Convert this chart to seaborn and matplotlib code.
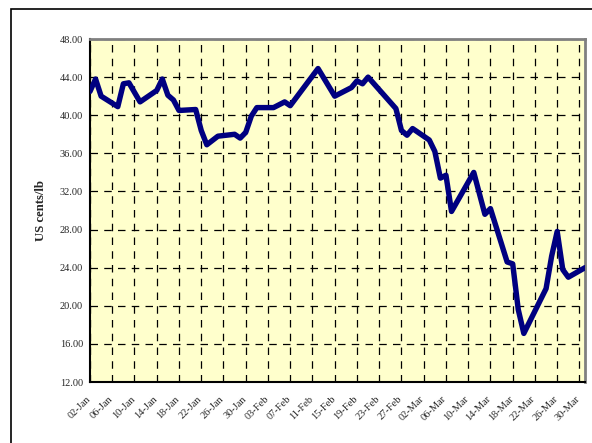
import matplotlib
matplotlib.use("Agg")
import matplotlib.pyplot as plt
from matplotlib.patches import Rectangle
from matplotlib.transforms import ScaledTranslation
import seaborn as sns
import pandas as pd

# ---- data ----
dates = [
    "2020-01-02", "2020-01-03", "2020-01-04", "2020-01-07", "2020-01-08", "2020-01-09",
    "2020-01-11", "2020-01-14", "2020-01-15", "2020-01-16", "2020-01-17", "2020-01-18",
    "2020-01-21", "2020-01-22", "2020-01-23", "2020-01-25", "2020-01-28", "2020-01-29",
    "2020-01-30", "2020-01-31", "2020-02-01", "2020-02-04", "2020-02-06", "2020-02-07",
    "2020-02-12", "2020-02-15", "2020-02-18", "2020-02-19", "2020-02-20", "2020-02-21",
    "2020-02-26", "2020-02-27", "2020-02-28", "2020-02-29", "2020-03-03", "2020-03-04",
    "2020-03-05", "2020-03-06", "2020-03-07", "2020-03-11", "2020-03-13", "2020-03-14",
    "2020-03-17", "2020-03-18", "2020-03-19", "2020-03-20", "2020-03-24", "2020-03-25",
    "2020-03-26", "2020-03-27", "2020-03-28", "2020-03-31",
]
prices = [
    42.5, 43.8, 42.0, 40.9, 43.3, 43.4,
    41.4, 42.6, 43.8, 42.1, 41.6, 40.5,
    40.6, 38.4, 36.9, 37.8, 38.0, 37.6,
    38.2, 39.9, 40.8, 40.8, 41.4, 41.0,
    44.9, 42.0, 42.9, 43.6, 43.3, 44.0,
    40.7, 38.4, 37.9, 38.6, 37.4, 36.2,
    33.4, 33.7, 29.9, 34.0, 29.6, 30.2,
    24.6, 24.4, 19.6, 17.1, 21.8, 25.2,
    27.8, 23.8, 23.0, 24.0,
]
y_ticks = [12, 16, 20, 24, 28, 32, 36, 40, 44, 48]
y_label = "US cents/lb"
x_start, x_end, x_last_tick = "2020-01-02", "2020-03-31", "2020-03-30"

df = pd.DataFrame({"date": pd.to_datetime(dates), "price": prices})

sns.set_style("white")
serif = ["Liberation Serif", "DejaVu Serif"]

fig = plt.figure(figsize=(5.92, 4.43), dpi=100)
ax = fig.add_axes([90 / 592, 1 - 382 / 443, (585 - 90) / 592, (382 - 39) / 443])
ax.set_facecolor("#FFFFCC")

sns.lineplot(data=df, x="date", y="price", ax=ax, color="#000080",
             linewidth=3.9, sort=False, estimator=None, zorder=3)

ax.set_xlim(pd.Timestamp(x_start), pd.Timestamp(x_end))
ax.set_ylim(y_ticks[0], y_ticks[-1])
ax.set_yticks(y_ticks)
ax.set_yticklabels([f"{v:.2f}" for v in y_ticks], family=serif, fontsize=7.5)

xt = pd.date_range(x_start, x_last_tick, freq="4D")
ax.set_xticks(xt)
ax.set_xticklabels([d.strftime("%d-%b") for d in xt], family=serif, fontsize=7.5,
                   rotation=45, ha="right", rotation_mode="anchor")
ax.tick_params(axis="both", length=0)
ax.tick_params(axis="x", pad=9)
ax.tick_params(axis="y", pad=5)
shift = ScaledTranslation(-4 / 100, 0, fig.dpi_scale_trans)
for lab in ax.get_xticklabels():
    lab.set_transform(lab.get_transform() + shift)

ax.grid(True, color="black", linestyle=(0, (6, 5)), linewidth=0.9, zorder=1)
ax.set_axisbelow(True)

ax.set_xlabel("")
ax.set_ylabel(y_label, family=serif, fontsize=9.2, fontweight="bold", labelpad=9)

for s in ["left", "bottom"]:
    ax.spines[s].set_color("black")
    ax.spines[s].set_linewidth(1.5)
for s in ["top", "right"]:
    ax.spines[s].set_color("#808080")
    ax.spines[s].set_linewidth(2)

fig.add_artist(Rectangle((11 / 592, -0.1), 1.2, (1 - 9 / 443) + 0.1,
                         transform=fig.transFigure, fill=False,
                         edgecolor="black", linewidth=1.2))

fig.savefig("out.png", dpi=100)
